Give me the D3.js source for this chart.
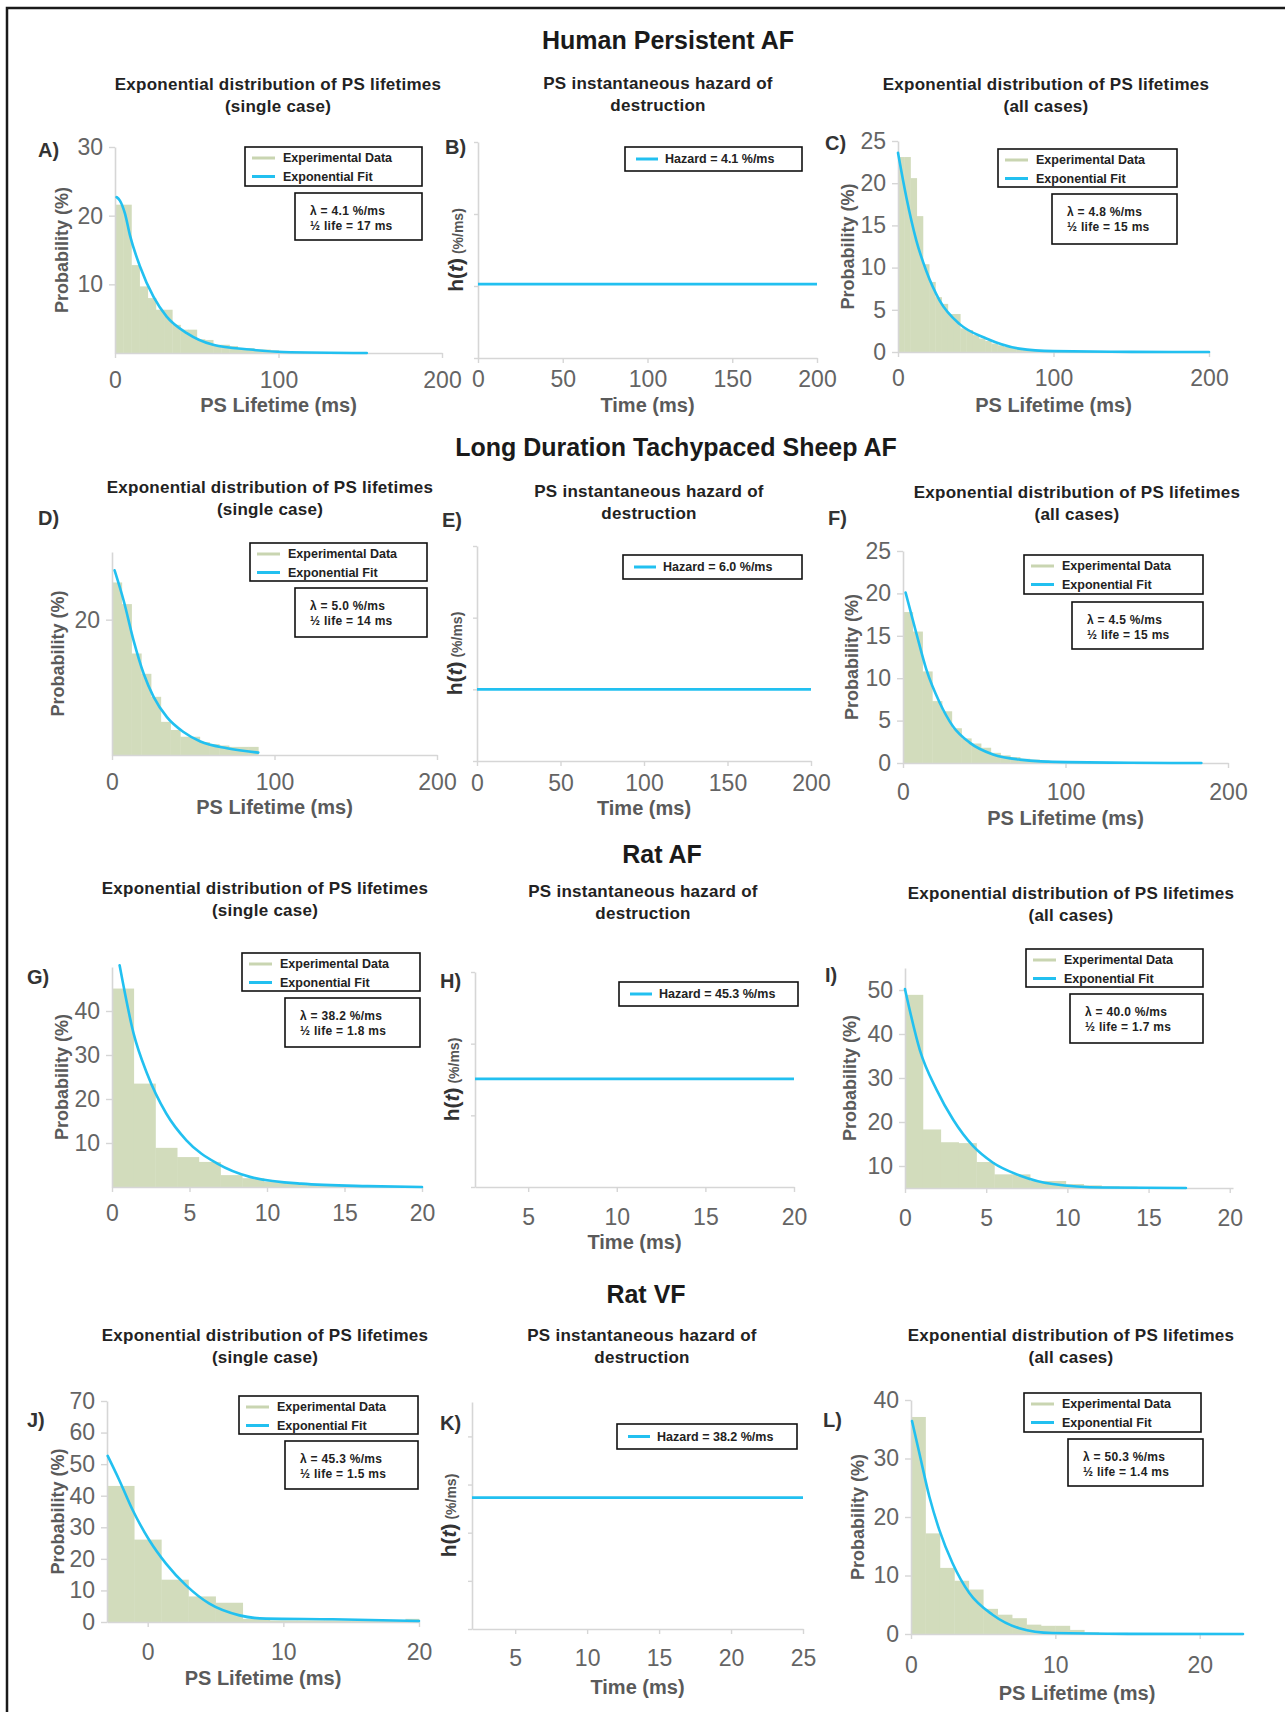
<!DOCTYPE html>
<html>
<head>
<meta charset="utf-8">
<script src="https://cdn.jsdelivr.net/npm/d3@7"></script>
<style>
body { margin: 0; background: #fff; }
svg { display: block; font-family: 'Liberation Sans', Arial, sans-serif; }
</style>
</head>
<body>
<script>
var W = 1285, H = 1712
var GREEN = '#d2dcbc'
var BLUE = '#22c0f0'
var AXIS = '#d6d6d6'

// section titles and panel subtitles
var sectionTitles = ['Human Persistent AF', 'Long Duration Tachypaced Sheep AF', 'Rat AF', 'Rat VF']
var singleTitle = ['Exponential distribution of PS lifetimes', '(single case)']
var allTitle = ['Exponential distribution of PS lifetimes', '(all cases)']
var hazardTitle = ['PS instantaneous hazard of', 'destruction']

// histogram bar heights (%)
var barsA = [21.6, 21.6, 12.8, 9.7, 8.0, 6.3, 6.3, 4.1, 3.4, 3.4, 2.0, 1.9, 1.2, 1.2, 1.0, 0.7, 0.7, 0.5, 0.5, 0.4]
var barsC = [23.1, 23.1, 20.6, 16.1, 10.4, 8.3, 6.5, 5.7, 4.5, 4.5, 2.8, 2.6, 2.0, 1.6, 1.3, 1.0, 0.8, 0.6, 0.5, 0.4, 0.3, 0.2, 0.2, 0.1, 0.1]
var barsD = [25.5, 22.3, 15.0, 12.0, 8.6, 4.9, 3.7, 2.7, 2.7, 1.9, 1.6, 1.4, 1.2, 1.2, 1.2]
var barsF = [17.8, 15.5, 10.8, 7.3, 6.1, 4.1, 2.9, 2.3, 1.8, 1.2, 0.9, 0.7, 0.5, 0.4, 0.3, 0.2, 0.2]
var barsG = [45.1, 23.5, 8.9, 6.8, 5.7, 2.7, 2.0, 1.2, 0.8, 0.5, 0.4, 0.3, 0.2, 0.2]
var barsI = [48.9, 18.3, 15.4, 15.2, 10.9, 8.1, 8.1, 6.6, 6.6, 5.9, 5.6, 5.4, 5.3, 5.2]
var barsJ = [43.1, 26.1, 13.4, 8.1, 6.1, 1.0, 0.5, 0.5, 0.5, 0.5, 0.5, 1.0]
var barsL = [37.1, 17.2, 11.3, 9.1, 7.6, 4.3, 3.3, 2.7, 1.6, 1.4, 1.4, 0.7, 0.3, 0.2, 0.2, 0.1, 0.1]

// exponential fit curves, [ms, %] points
var fitA = [[1, 22.7], [3, 22.2], [6.1, 20.3], [9.2, 17.1], [15.3, 12.6], [23.5, 8.2], [31.6, 5.3], [43.9, 2.9], [60, 1.2], [82.6, 0.5], [103, 0.15], [154, 0]]
var fitC = [[0, 23.6], [5.4, 18.3], [11.8, 13.2], [18.2, 9.6], [26.8, 6.1], [39.7, 3.3], [56.8, 1.6], [78, 0.4], [100, 0.1], [150, 0.02], [200, 0]]
var fitD = [[1.6, 27.3], [7.2, 22.8], [13.3, 16.9], [19.5, 12.0], [25.6, 8.6], [33.8, 5.6], [44, 3.4], [54.4, 2.0], [70.8, 1.0], [90, 0.35]]
var fitF = [[1.6, 20.1], [8.2, 15.3], [14.4, 11.0], [22.6, 7.1], [30.8, 4.3], [41, 2.4], [55.4, 1.0], [71.8, 0.4], [100.5, 0.1], [140, 0.03], [183.6, 0]]
var fitG = [[0.49, 50.4], [1.4, 34.8], [2.26, 25.8], [3.5, 16.7], [4.8, 10.6], [6.8, 5.3], [8.9, 2.3], [12.2, 0.76], [16.5, 0.2], [20, 0]]
var fitI = [[0, 50.2], [0.92, 36.3], [1.95, 27.3], [2.97, 20.5], [4.2, 14.5], [5.4, 10.8], [7.1, 7.8], [9.1, 5.9], [12.2, 5.1], [17.3, 5.0]]
var fitJ = [[-2.95, 52.6], [-2.1, 45.0], [-1.1, 35.4], [0.12, 25.9], [1.35, 18.5], [2.83, 11.6], [4.55, 5.8], [6.77, 2.1], [8.73, 1.06], [13.65, 0.85], [20, 0.3]]
var fitL = [[0.07, 36.4], [0.58, 30.9], [1.27, 23.5], [1.96, 17.8], [2.88, 12.1], [4.04, 7.0], [5.65, 3.3], [7.5, 1.0], [9.8, 0.17], [15, 0.02], [23, 0]]

var lambdas = ['4.1', '4.8', '5.0', '4.5', '38.2', '40.0', '45.3', '50.3']
var halfLives = ['17', '15', '14', '15', '1.8', '1.7', '1.5', '1.4']
var hazards = [4.1, 6.0, 45.3, 38.2]

var panels = [
	{ letter: 'A', type: 'hist', x0: 115, x1: 442, y0: 147, y1: 353, xDomain: [0, 200], yDomain: [0, 30], xTicks: [0, 100, 200], yTicks: [10, 20, 30],
		bars: barsA, binStart: 0, binW: 5, fit: fitA, k: 0, lpos: [38, 150], legend: [245, 147, 422, 186], param: [295, 193, 422, 240],
		xTickOff: 27, xLabelOff: 52, yLabelOff: 53, title: singleTitle, tpos: [278, 84] },
	{ letter: 'B', type: 'hazard', x0: 478, x1: 817, y0: 142, y1: 358, xDomain: [0, 200], yDomain: [0, 12], xTicks: [0, 50, 100, 150, 200], yTicks: [0, 4, 8, 12],
		k: 0, lpos: [445, 147], legend: [625, 147, 802, 171], xTickOff: 21, xLabelOff: 47, yLabelOff: 21, title: hazardTitle, tpos: [658, 83] },
	{ letter: 'C', type: 'hist', x0: 898, x1: 1209, y0: 141, y1: 352, xDomain: [0, 200], yDomain: [0, 25], xTicks: [0, 100, 200], yTicks: [0, 5, 10, 15, 20, 25],
		bars: barsC, binStart: 0, binW: 4, fit: fitC, k: 1, lpos: [825, 143], legend: [998, 149, 1177, 187], param: [1052, 194, 1177, 244],
		xTickOff: 26, xLabelOff: 53, yLabelOff: 50, title: allTitle, tpos: [1046, 84] },
	{ letter: 'D', type: 'hist', x0: 112, x1: 437, y0: 552, y1: 755, xDomain: [0, 200], yDomain: [0, 30], xTicks: [0, 100, 200], yTicks: [20],
		bars: barsD, binStart: 0, binW: 6, fit: fitD, k: 2, lpos: [38, 518], legend: [250, 543, 427, 581], param: [295, 588, 427, 637],
		xTickOff: 27, xLabelOff: 52, yLabelOff: 54, title: singleTitle, tpos: [270, 487] },
	{ letter: 'E', type: 'hazard', x0: 477, x1: 811, y0: 546, y1: 761, xDomain: [0, 200], yDomain: [0, 18], xTicks: [0, 50, 100, 150, 200], yTicks: [0, 6, 12, 18],
		k: 1, lpos: [442, 520], legend: [623, 555, 802, 579], xTickOff: 22, xLabelOff: 47, yLabelOff: 21, title: hazardTitle, tpos: [649, 491] },
	{ letter: 'F', type: 'hist', x0: 903, x1: 1228, y0: 551, y1: 763, xDomain: [0, 200], yDomain: [0, 25], xTicks: [0, 100, 200], yTicks: [0, 5, 10, 15, 20, 25],
		bars: barsF, binStart: 0, binW: 6, fit: fitF, k: 3, lpos: [828, 518], legend: [1024, 555, 1203, 594], param: [1072, 602, 1203, 649],
		xTickOff: 29, xLabelOff: 55, yLabelOff: 51, title: allTitle, tpos: [1077, 492] },
	{ letter: 'G', type: 'hist', x0: 112, x1: 422, y0: 967, y1: 1187, xDomain: [0, 20], yDomain: [0, 50], xTicks: [0, 5, 10, 15, 20], yTicks: [10, 20, 30, 40],
		bars: barsG, binStart: 0, binW: 1.4, fit: fitG, k: 4, lpos: [27, 977], legend: [242, 953, 420, 991], param: [285, 998, 420, 1047],
		xTickOff: 26, xLabelOff: null, yLabelOff: 50, title: singleTitle, tpos: [265, 888] },
	{ letter: 'H', type: 'hazard', x0: 475, x1: 794, y0: 972, y1: 1187, xDomain: [2, 20], yDomain: [0, 90], xTicks: [5, 10, 15, 20], yTicks: [0, 30, 60, 90],
		k: 2, lpos: [440, 981], legend: [619, 982, 798, 1006], xTickOff: 30, xLabelOff: 55, yLabelOff: 22, title: hazardTitle, tpos: [643, 891] },
	{ letter: 'I', type: 'hist', x0: 905, x1: 1233, y0: 968, y1: 1188, xDomain: [0, 20.2], yDomain: [5, 55], xTicks: [0, 5, 10, 15, 20], yTicks: [10, 20, 30, 40, 50],
		bars: barsI, binStart: 0, binW: 1.1, fit: fitI, k: 5, lpos: [825, 975], legend: [1026, 949, 1203, 987], param: [1070, 994, 1203, 1043],
		xTickOff: 30, xLabelOff: null, yLabelOff: 55, title: allTitle, tpos: [1071, 893] },
	{ letter: 'J', type: 'hist', x0: 107, x1: 419, y0: 1401, y1: 1622, xDomain: [-3, 20], yDomain: [0, 70], xTicks: [0, 10, 20], yTicks: [0, 10, 20, 30, 40, 50, 60, 70],
		bars: barsJ, binStart: -3, binW: 2, fit: fitJ, k: 6, lpos: [27, 1420], legend: [239, 1396, 418, 1434], param: [285, 1441, 418, 1489],
		xTickOff: 30, xLabelOff: 56, yLabelOff: 49, title: singleTitle, tpos: [265, 1335] },
	{ letter: 'K', type: 'hazard', x0: 472, x1: 803, y0: 1402, y1: 1629, xDomain: [2, 25], yDomain: [0, 66], xTicks: [5, 10, 15, 20, 25], yTicks: [0, 14, 28, 42, 56],
		k: 3, lpos: [440, 1423], legend: [617, 1424, 797, 1449], xTickOff: 29, xLabelOff: 58, yLabelOff: 22, title: hazardTitle, tpos: [642, 1335] },
	{ letter: 'L', type: 'hist', x0: 911, x1: 1243, y0: 1400, y1: 1634, xDomain: [0, 23], yDomain: [0, 40], xTicks: [0, 10, 20], yTicks: [0, 10, 20, 30, 40],
		bars: barsL, binStart: 0, binW: 1, fit: fitL, k: 7, lpos: [823, 1420], legend: [1024, 1393, 1201, 1432], param: [1068, 1439, 1203, 1486],
		xTickOff: 31, xLabelOff: 59, yLabelOff: 53, title: allTitle, tpos: [1071, 1335] }
]
var sectionPos = [[668, 40], [676, 447], [662, 854], [646, 1294]]

var svg = d3.select('body').append('svg').attr('width', W).attr('height', H)
svg.append('rect').attr('width', W).attr('height', H).attr('fill', '#fff')

// outer frame (runs past the right and bottom edge)
svg.append('path').attr('d', 'M7,' + (H + 5) + ' V8 H' + (W + 5))
	.attr('fill', 'none').attr('stroke', '#1a1a1a').attr('stroke-width', 2.5)

svg.selectAll('text.section').data(sectionTitles).enter().append('text')
	.attr('class', 'section')
	.attr('x', function(d, i) { return sectionPos[i][0] })
	.attr('y', function(d, i) { return sectionPos[i][1] })
	.attr('dy', '0.35em')
	.attr('text-anchor', 'middle')
	.attr('font-size', 25).attr('font-weight', 'bold').attr('fill', '#1a1a1a')
	.text(function(d) { return d })

panels.forEach(drawPanel)

function drawPanel(p) {
	var g = svg.append('g')
	var x = d3.scaleLinear().domain(p.xDomain).range([p.x0, p.x1])
	var y = d3.scaleLinear().domain(p.yDomain).range([p.y1, p.y0])

	// subtitle
	g.selectAll('text.sub').data(p.title).enter().append('text')
		.attr('x', p.tpos[0]).attr('y', function(d, i) { return p.tpos[1] + i * 22 })
		.attr('dy', '0.35em').attr('text-anchor', 'middle')
		.attr('font-size', 17).attr('letter-spacing', 0.25).attr('font-weight', 'bold').attr('fill', '#222')
		.text(function(d) { return d })

	// panel letter
	g.append('text').attr('x', p.lpos[0]).attr('y', p.lpos[1]).attr('dy', '0.35em')
		.attr('font-size', 20).attr('font-weight', 'bold').attr('fill', '#333')
		.text(p.letter + ')')

	if (p.type === 'hist') {
		var bars = p.bars.map(function(v, i) {
			var a = p.binStart + i * p.binW
			return { a: a, b: Math.min(a + p.binW, p.xDomain[1]), v: v }
		})
		g.selectAll('rect.bar').data(bars).enter().append('rect')
			.attr('x', function(d) { return x(d.a) })
			.attr('width', function(d) { return x(d.b) - x(d.a) + 0.4 })
			.attr('y', function(d) { return y(d.v) })
			.attr('height', function(d) { return y(p.yDomain[0]) - y(d.v) })
			.attr('fill', GREEN)
	}

	// axes
	var xa = g.append('g').attr('transform', 'translate(0,' + p.y1 + ')')
		.call(d3.axisBottom(x).tickValues(p.xTicks).tickSize(5).tickSizeOuter(0).tickFormat(d3.format('d')))
	var ya = g.append('g').attr('transform', 'translate(' + p.x0 + ',0)')
		.call(d3.axisLeft(y).tickValues(p.yTicks).tickSize(p.type === 'hist' ? 6 : 4).tickSizeOuter(0).tickPadding(6)
			.tickFormat(p.type === 'hist' ? d3.format('d') : ''))
	;[xa, ya].forEach(function(a) {
		a.select('.domain').attr('stroke', AXIS).attr('stroke-width', 1.6)
		a.selectAll('.tick line').attr('stroke', AXIS).attr('stroke-width', 1.4)
		a.selectAll('.tick text').attr('fill', '#646464').attr('font-size', 23)
			.attr('font-family', "'Liberation Sans', Arial, sans-serif")
	})
	xa.selectAll('.tick text').attr('y', p.xTickOff).attr('dy', '0.35em')

	var cx = (p.x0 + p.x1) / 2
	var cy = (p.y0 + p.y1) / 2
	if (p.xLabelOff !== null) {
		g.append('text').attr('x', cx).attr('y', p.y1 + p.xLabelOff).attr('dy', '0.35em')
			.attr('text-anchor', 'middle').attr('font-size', 20).attr('font-weight', 'bold').attr('fill', '#5a5a5a')
			.text(p.type === 'hist' ? 'PS Lifetime (ms)' : 'Time (ms)')
	}

	if (p.type === 'hist') {
		g.append('text')
			.attr('transform', 'translate(' + (p.x0 - p.yLabelOff) + ',' + cy + ') rotate(-90)')
			.attr('dy', '0.35em').attr('text-anchor', 'middle')
			.attr('font-size', 18).attr('font-weight', 'bold').attr('fill', '#5a5a5a')
			.text('Probability (%)')

		var line = d3.line().x(function(d) { return x(d[0]) }).y(function(d) { return y(d[1]) }).curve(d3.curveMonotoneX)
		g.append('path').datum(p.fit).attr('d', line)
			.attr('fill', 'none').attr('stroke', BLUE).attr('stroke-width', 2.6).attr('stroke-linecap', 'round')

		drawLegend(g, p.legend)
		drawParam(g, p.param, lambdas[p.k], halfLives[p.k])
	} else {
		var t = g.append('text')
			.attr('transform', 'translate(' + (p.x0 - p.yLabelOff) + ',' + cy + ') rotate(-90)')
			.attr('dy', '0.35em').attr('text-anchor', 'middle').attr('font-weight', 'bold')
		t.append('tspan').attr('font-size', 21).attr('fill', '#333').text('h(')
		t.append('tspan').attr('font-size', 21).attr('fill', '#333').attr('font-style', 'italic').text('t')
		t.append('tspan').attr('font-size', 21).attr('fill', '#333').text(')')
		t.append('tspan').attr('font-size', 14).attr('fill', '#555').text(' (%/ms)')

		var hz = hazards[p.k]
		var hline = d3.line().x(function(d) { return x(d[0]) }).y(function(d) { return y(d[1]) })
		g.append('path').datum([[p.xDomain[0], hz], [p.xDomain[1], hz]]).attr('d', hline)
			.attr('fill', 'none').attr('stroke', BLUE).attr('stroke-width', 2.8)

		drawHazardLegend(g, p.legend, hz)
	}
}

function box(g, b) {
	g.append('rect').attr('x', b[0]).attr('y', b[1]).attr('width', b[2] - b[0]).attr('height', b[3] - b[1])
		.attr('fill', '#fff').attr('stroke', '#111').attr('stroke-width', 1.6)
}

function drawLegend(g, b) {
	box(g, b)
	var items = [['Experimental Data', '#c9d5b1'], ['Exponential Fit', BLUE]]
	items.forEach(function(it, i) {
		var yy = b[1] + 11 + i * 18.5
		g.append('line').attr('x1', b[0] + 7).attr('x2', b[0] + 30).attr('y1', yy).attr('y2', yy)
			.attr('stroke', it[1]).attr('stroke-width', 3)
		g.append('text').attr('x', b[0] + 38).attr('y', yy).attr('dy', '0.35em')
			.attr('font-size', 12.5).attr('font-weight', 'bold').attr('fill', '#222').text(it[0])
	})
}

function drawParam(g, b, lam, half) {
	box(g, b)
	var rows = ['\u03bb = ' + lam + ' %/ms', '\u00bd life = ' + half + ' ms']
	rows.forEach(function(r, i) {
		g.append('text').attr('x', b[0] + 15).attr('y', b[1] + 18 + i * 15).attr('dy', '0.35em')
			.attr('font-size', 12).attr('letter-spacing', 0.3).attr('font-weight', 'bold').attr('fill', '#222').text(r)
	})
}

function drawHazardLegend(g, b, hz) {
	box(g, b)
	var yy = (b[1] + b[3]) / 2
	g.append('line').attr('x1', b[0] + 11).attr('x2', b[0] + 33).attr('y1', yy).attr('y2', yy)
		.attr('stroke', BLUE).attr('stroke-width', 3)
	g.append('text').attr('x', b[0] + 40).attr('y', yy).attr('dy', '0.35em')
		.attr('font-size', 12.5).attr('font-weight', 'bold').attr('fill', '#222')
		.text('Hazard = ' + hz.toFixed(1) + ' %/ms')
}
</script>
</body>
</html>
